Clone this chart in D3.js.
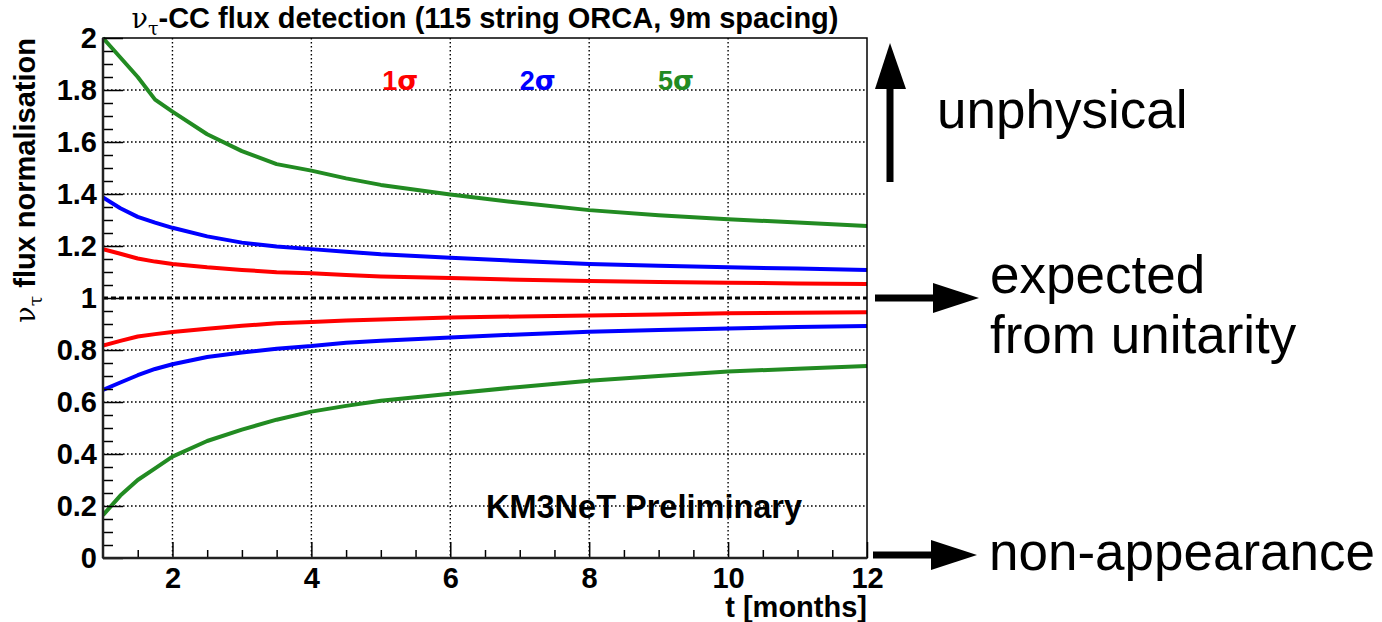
<!DOCTYPE html>
<html>
<head>
<meta charset="utf-8">
<script src="https://cdn.jsdelivr.net/npm/d3@7"></script>
<style>
  body { margin: 0; background: white; }
  text { font-family: "Liberation Sans", Arial, sans-serif; }
</style>
</head>
<body>
<div id="app"></div>
<script>
// data
var months = [1, 1.25, 1.5, 1.75, 2, 2.5, 3, 3.5, 4, 4.5, 5, 6, 7, 8, 9, 10, 11, 12];

var sigma1Up = [1.188, 1.17, 1.152, 1.14, 1.131, 1.118, 1.108, 1.099, 1.095, 1.088, 1.083, 1.077, 1.07, 1.065, 1.062, 1.059, 1.056, 1.054];
var sigma1Down = [0.817, 0.835, 0.852, 0.861, 0.869, 0.882, 0.893, 0.903, 0.908, 0.913, 0.917, 0.925, 0.929, 0.933, 0.937, 0.941, 0.943, 0.945];
var sigma2Up = [1.387, 1.345, 1.312, 1.29, 1.27, 1.237, 1.213, 1.198, 1.188, 1.178, 1.168, 1.155, 1.142, 1.131, 1.124, 1.118, 1.113, 1.108];
var sigma2Down = [0.646, 0.675, 0.703, 0.727, 0.745, 0.773, 0.79, 0.805, 0.815, 0.828, 0.836, 0.848, 0.86, 0.87, 0.877, 0.883, 0.888, 0.892];
var sigma5Up = [2.0, 1.925, 1.85, 1.763, 1.717, 1.63, 1.565, 1.515, 1.49, 1.46, 1.435, 1.398, 1.366, 1.338, 1.318, 1.303, 1.29, 1.277];
var sigma5Down = [0.165, 0.24, 0.3, 0.345, 0.39, 0.45, 0.494, 0.532, 0.563, 0.585, 0.605, 0.632, 0.658, 0.682, 0.7, 0.717, 0.728, 0.738];

var yTicks = [0, 0.2, 0.4, 0.6, 0.8, 1, 1.2, 1.4, 1.6, 1.8, 2];
var xTicks = [2, 4, 6, 8, 10, 12];
var sigmaLabels = ["1", "2", "5"];
var sigmaLabelT = [5.02, 7.0, 8.99];
var expected = 1;

var red = "#ff0000", blue = "#0000ff", green = "#228b22";

var curves = [
  {values: sigma1Up, color: red},
  {values: sigma1Down, color: red},
  {values: sigma2Up, color: blue},
  {values: sigma2Down, color: blue},
  {values: sigma5Up, color: green},
  {values: sigma5Down, color: green}
];

var width = 1382, height = 622;
var plot = {left: 103, right: 867, top: 38, bottom: 558};

var svg = d3.select("#app")
  .append("svg")
    .attr("width", width)
    .attr("height", height)
    .style("background", "white");

var x = d3.scaleLinear().domain([1, 12]).range([plot.left, plot.right]);
var y = d3.scaleLinear().domain([0, 2]).range([plot.bottom, plot.top]);

// grid
svg.append("g")
  .selectAll("line")
  .data(xTicks.filter(d => d < 12))
  .join("line")
    .attr("x1", d => x(d)).attr("x2", d => x(d))
    .attr("y1", plot.top).attr("y2", plot.bottom)
    .attr("stroke", "black").attr("stroke-width", 1.4)
    .attr("stroke-dasharray", "1.6 2.4");

svg.append("g")
  .selectAll("line")
  .data(yTicks.filter(d => d > 0 && d < 2 && d !== 1))
  .join("line")
    .attr("x1", plot.left).attr("x2", plot.right)
    .attr("y1", d => y(d)).attr("y2", d => y(d))
    .attr("stroke", "black").attr("stroke-width", 1.4)
    .attr("stroke-dasharray", "1.6 2.4");

// expected line
svg.append("line")
  .attr("x1", plot.left).attr("x2", plot.right)
  .attr("y1", y(expected)).attr("y2", y(expected))
  .attr("stroke", "black").attr("stroke-width", 3)
  .attr("stroke-dasharray", "5 3");

// curves
svg.append("clipPath").attr("id", "clip")
  .append("rect")
    .attr("x", plot.left).attr("y", plot.top - 2)
    .attr("width", plot.right - plot.left).attr("height", plot.bottom - plot.top + 2);

var line = d3.line()
  .x((d, i) => x(months[i]))
  .y(d => y(d));

svg.append("g")
  .attr("clip-path", "url(#clip)")
  .selectAll("path")
  .data(curves)
  .join("path")
    .attr("d", d => line(d.values))
    .attr("fill", "none")
    .attr("stroke", d => d.color)
    .attr("stroke-width", 4)
    .attr("stroke-linejoin", "round");

// axes
svg.append("g")
  .attr("transform", "translate(" + plot.left + ",0)")
  .call(d3.axisLeft(y).tickValues(yTicks).tickSize(-20).tickPadding(6).tickFormat(d3.format("~g")));
var yMinor = d3.range(0, 2.001, 0.05).filter(v => Math.abs(v * 5 - Math.round(v * 5)) > 0.01);
svg.append("g")
  .attr("transform", "translate(" + plot.left + ",0)")
  .call(d3.axisLeft(y).tickValues(yMinor).tickSize(-10).tickFormat(""));

svg.append("g")
  .attr("transform", "translate(0," + plot.bottom + ")")
  .call(d3.axisBottom(x).tickValues(xTicks).tickSize(-16).tickPadding(9).tickFormat(d3.format("d")));
var xMinor = d3.range(1.5, 12, 0.5).filter(v => v % 2 !== 0);
svg.append("g")
  .attr("transform", "translate(0," + plot.bottom + ")")
  .call(d3.axisBottom(x).tickValues(xMinor).tickSize(-8).tickFormat(""));

svg.selectAll(".domain").remove();
svg.selectAll(".tick line").attr("stroke", "black").attr("stroke-width", 1.5);
svg.selectAll(".tick text")
  .attr("fill", "black")
  .style("font-size", "29px")
  .style("font-weight", "bold")
  .style("font-family", "Liberation Sans, Arial, sans-serif");

// frame
svg.append("rect")
  .attr("x", plot.left).attr("y", plot.top)
  .attr("width", plot.right - plot.left).attr("height", plot.bottom - plot.top)
  .attr("fill", "none").attr("stroke", "black").attr("stroke-width", 1.5);
svg.append("line")
  .attr("x1", plot.left).attr("x2", plot.right)
  .attr("y1", plot.bottom).attr("y2", plot.bottom)
  .attr("stroke", "#222").attr("stroke-width", 2.5);
svg.append("line")
  .attr("x1", plot.left).attr("x2", plot.left)
  .attr("y1", plot.top).attr("y2", plot.bottom)
  .attr("stroke", "#222").attr("stroke-width", 2.5);

// title
var title = svg.append("text")
  .attr("x", (plot.left + plot.right) / 2)
  .attr("y", 28)
  .attr("text-anchor", "middle")
  .style("font-size", "29px")
  .style("font-weight", "bold");
title.append("tspan").text("ν").style("font-family", "DejaVu Serif, serif").style("font-weight", "normal").style("font-size", "27px");
title.append("tspan").text("τ").attr("dy", 7).style("font-size", "19px").style("font-family", "DejaVu Serif, serif").style("font-weight", "normal");
title.append("tspan").text("-CC flux detection (115 string ORCA, 9m spacing)").attr("dy", -7);

// y label
var yLabel = svg.append("text")
  .attr("transform", "translate(35," + plot.top + ") rotate(-90)")
  .attr("text-anchor", "end")
  .style("font-size", "29px")
  .style("font-weight", "bold");
yLabel.append("tspan").text("ν").style("font-family", "DejaVu Serif, serif").style("font-weight", "normal").style("font-size", "27px");
yLabel.append("tspan").text("τ").attr("dy", 7).style("font-size", "19px").style("font-family", "DejaVu Serif, serif").style("font-weight", "normal");
yLabel.append("tspan").text(" flux normalisation").attr("dy", -7);

// x label
svg.append("text")
  .attr("x", plot.right)
  .attr("y", 617)
  .attr("text-anchor", "end")
  .style("font-size", "29px")
  .style("font-weight", "bold")
  .text("t [months]");

// sigma labels
var sigmaColors = [red, blue, green];
var sl = svg.append("g").selectAll("text")
  .data(sigmaLabels)
  .join("text")
    .attr("x", (d, i) => x(sigmaLabelT[i]))
    .attr("y", 90)
    .attr("fill", (d, i) => sigmaColors[i])
    .style("font-size", "27px")
    .style("font-weight", "bold");
sl.append("tspan").text(d => d);
sl.append("tspan").text("σ").style("font-family", "DejaVu Sans, sans-serif");

// preliminary
svg.append("text")
  .attr("x", 486)
  .attr("y", 518)
  .style("font-size", "32.5px")
  .style("font-weight", "bold")
  .text("KM3NeT Preliminary");

// annotations on the right
var ann = svg.append("g");
ann.append("rect").attr("x", 886.5).attr("y", 86).attr("width", 7).attr("height", 96).attr("fill", "black");
ann.append("path").attr("d", "M875,89 L906,89 L890,43 Z").attr("fill", "black");
ann.append("rect").attr("x", 875).attr("y", 294.5).attr("width", 60).attr("height", 7).attr("fill", "black");
ann.append("path").attr("d", "M933,283 L933,313 L979,298 Z").attr("fill", "black");
ann.append("rect").attr("x", 873).attr("y", 551.5).attr("width", 60).attr("height", 7).attr("fill", "black");
ann.append("path").attr("d", "M931,540 L931,570 L977,555 Z").attr("fill", "black");

var annText = [
  {t: "unphysical", x: 937, y: 128},
  {t: "expected", x: 990, y: 293},
  {t: "from unitarity", x: 990, y: 353},
  {t: "non-appearance", x: 989, y: 570}
];
ann.selectAll("text")
  .data(annText)
  .join("text")
    .attr("x", d => d.x)
    .attr("y", d => d.y)
    .style("font-size", "53px")
    .text(d => d.t);
</script>
</body>
</html>
